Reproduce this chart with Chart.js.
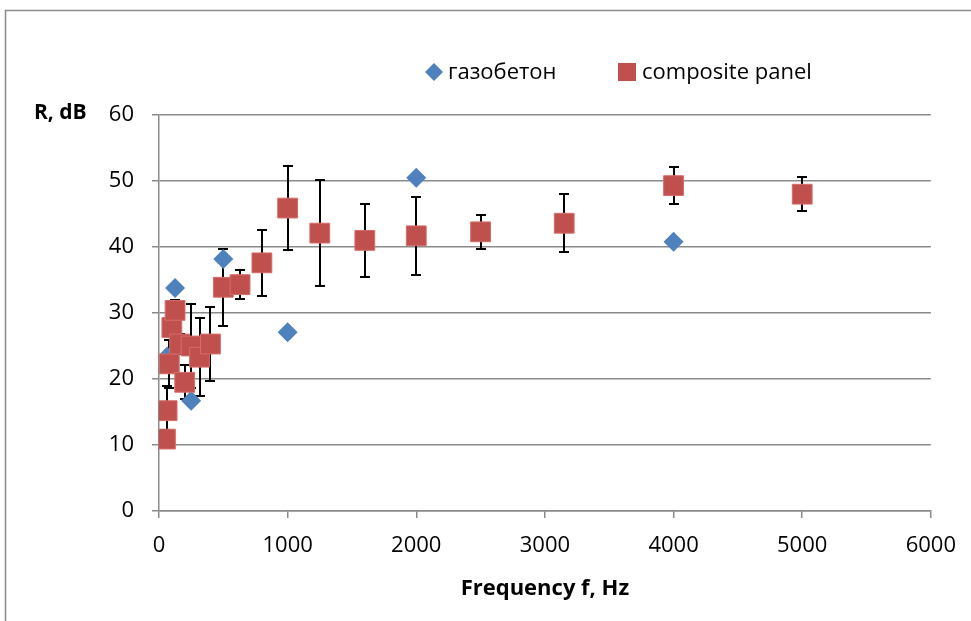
<!DOCTYPE html>
<html>
<head>
<meta charset="utf-8">
<script src="https://cdn.jsdelivr.net/npm/chart.js@4/dist/chart.umd.min.js"></script>
<style>
html,body{margin:0;padding:0;background:#fff;}
canvas{display:block;}
</style>
</head>
<body>
<canvas id="c" width="971" height="621"></canvas>
<script>
// ---- data ----
const frequencies    = [50, 63, 80, 100, 125, 160, 200, 250, 315, 400, 500, 630, 800, 1000, 1250, 1600, 2000, 2500, 3150, 4000, 5000];
const compositePanel = [10.9, 15.2, 22.3, 27.8, 30.4, 25.3, 19.5, 25.0, 23.3, 25.3, 33.9, 34.3, 37.6, 45.9, 42.1, 41.0, 41.7, 42.3, 43.6, 49.3, 48.0];
const compositeError = [1.3, 3.7, 3.6, 1.5, 1.5, 1.5, 2.6, 6.3, 5.9, 5.6, 5.8, 2.2, 5.0, 6.4, 8.0, 5.5, 5.9, 2.6, 4.4, 2.8, 2.6];
const gasFrequencies = [63, 125, 250, 500, 1000, 2000, 4000];
const gasConcrete    = [23.4, 33.8, 16.7, 38.2, 27.1, 50.5, 40.8];
const xTickValues = [0, 1000, 2000, 3000, 4000, 5000, 6000];
const yTickValues = [0, 10, 20, 30, 40, 50, 60];
const seriesNames = ['газобетон', 'composite panel'];
const xAxisTitle = 'Frequency f, Hz';
const yAxisTitle = 'R, dB';

const BLUE = '#4F81BD';
const RED = '#C0504D';
const GRID = '#8a8a8a';
const FONT = '"Open Sans", "DejaVu Sans", sans-serif';

const errorBarPlugin = {
  id: 'errorBars',
  beforeDatasetsDraw(chart) {
    const {ctx, scales: {x, y}} = chart;
    ctx.save();
    ctx.strokeStyle = '#000';
    ctx.lineWidth = 2;
    frequencies.forEach((f, i) => {
      const px = Math.round(x.getPixelForValue(f));
      const top = Math.round(y.getPixelForValue(compositePanel[i] + compositeError[i]));
      const bot = Math.round(y.getPixelForValue(compositePanel[i] - compositeError[i]));
      ctx.beginPath();
      ctx.moveTo(px, top); ctx.lineTo(px, bot);
      ctx.moveTo(px - 5, top); ctx.lineTo(px + 5, top);
      ctx.moveTo(px - 5, bot); ctx.lineTo(px + 5, bot);
      ctx.stroke();
    });
    ctx.restore();
  }
};

const decorPlugin = {
  id: 'decor',
  beforeDraw(chart) {
    const ctx = chart.ctx;
    ctx.save();
    ctx.fillStyle = '#fff';
    ctx.fillRect(0, 0, chart.width, chart.height);
    ctx.strokeStyle = GRID;
    ctx.lineWidth = 1.5;
    ctx.beginPath();
    ctx.moveTo(5.5, chart.height);
    ctx.lineTo(5.5, 10.5);
    ctx.lineTo(chart.width, 10.5);
    ctx.stroke();
    ctx.restore();
  },
  afterDraw(chart) {
    const ctx = chart.ctx;
    ctx.save();
    // y axis title
    ctx.fillStyle = '#000';
    ctx.font = 'bold 21px ' + FONT;
    ctx.textBaseline = 'middle';
    ctx.textAlign = 'left';
    ctx.fillText(yAxisTitle, 34, 113);
    // legend
    const ly = 72;
    ctx.fillStyle = BLUE;
    ctx.beginPath();
    ctx.moveTo(434, ly - 9); ctx.lineTo(443, ly); ctx.lineTo(434, ly + 9); ctx.lineTo(425, ly);
    ctx.closePath(); ctx.fill();
    ctx.fillStyle = RED;
    ctx.fillRect(618, ly - 9, 18, 18);
    ctx.fillStyle = '#000';
    ctx.font = '22px ' + FONT;
    ctx.fillText(seriesNames[0], 448, ly + 1);
    ctx.fillText(seriesNames[1], 642, ly + 1);
    ctx.restore();
  }
};

new Chart(document.getElementById('c'), {
  type: 'scatter',
  data: {
    datasets: [
      {
        label: seriesNames[0],
        data: gasFrequencies.map((f, i) => ({x: f, y: gasConcrete[i]})),
        pointStyle: 'rectRot',
        pointRadius: 10,
        backgroundColor: BLUE,
        borderColor: BLUE,
        borderWidth: 0,
        order: 1
      },
      {
        label: seriesNames[1],
        data: frequencies.map((f, i) => ({x: f, y: compositePanel[i]})),
        pointStyle: 'rect',
        pointRadius: 14,
        backgroundColor: RED,
        borderColor: '#d46d6a',
        borderWidth: 1,
        order: 0
      }
    ]
  },
  options: {
    responsive: false,
    animation: false,
    events: [],
    layout: {padding: {top: 115, right: 38, left: 0, bottom: 0}},
    plugins: {legend: {display: false}, tooltip: {enabled: false}},
    scales: {
      x: {
        type: 'linear',
        min: 0, max: 6000,
        afterFit: s => { s.height = 110; },
        afterBuildTicks: s => { s.ticks = xTickValues.map(v => ({value: v})); },
        ticks: {color: '#000', font: {family: FONT, size: 22}, padding: 15, maxRotation: 0, callback: v => String(v)},
        grid: {drawOnChartArea: false, drawTicks: true, tickLength: 7, color: GRID, lineWidth: 1.5},
        border: {display: true, color: GRID, width: 1.5},
        title: {display: true, text: xAxisTitle, color: '#000', font: {family: FONT, size: 22, weight: 'bold'}, padding: {top: 0, bottom: 19}}
      },
      y: {
        type: 'linear',
        min: 0, max: 60,
        afterFit: s => { s.width = 159; },
        afterBuildTicks: s => { s.ticks = yTickValues.map(v => ({value: v})); },
        ticks: {color: '#000', font: {family: FONT, size: 22}, padding: 18, callback: v => String(v)},
        grid: {drawTicks: true, tickLength: 7, color: GRID, lineWidth: 1.5},
        border: {display: true, color: GRID, width: 1.5}
      }
    }
  },
  plugins: [decorPlugin, errorBarPlugin]
});
</script>
</body>
</html>
